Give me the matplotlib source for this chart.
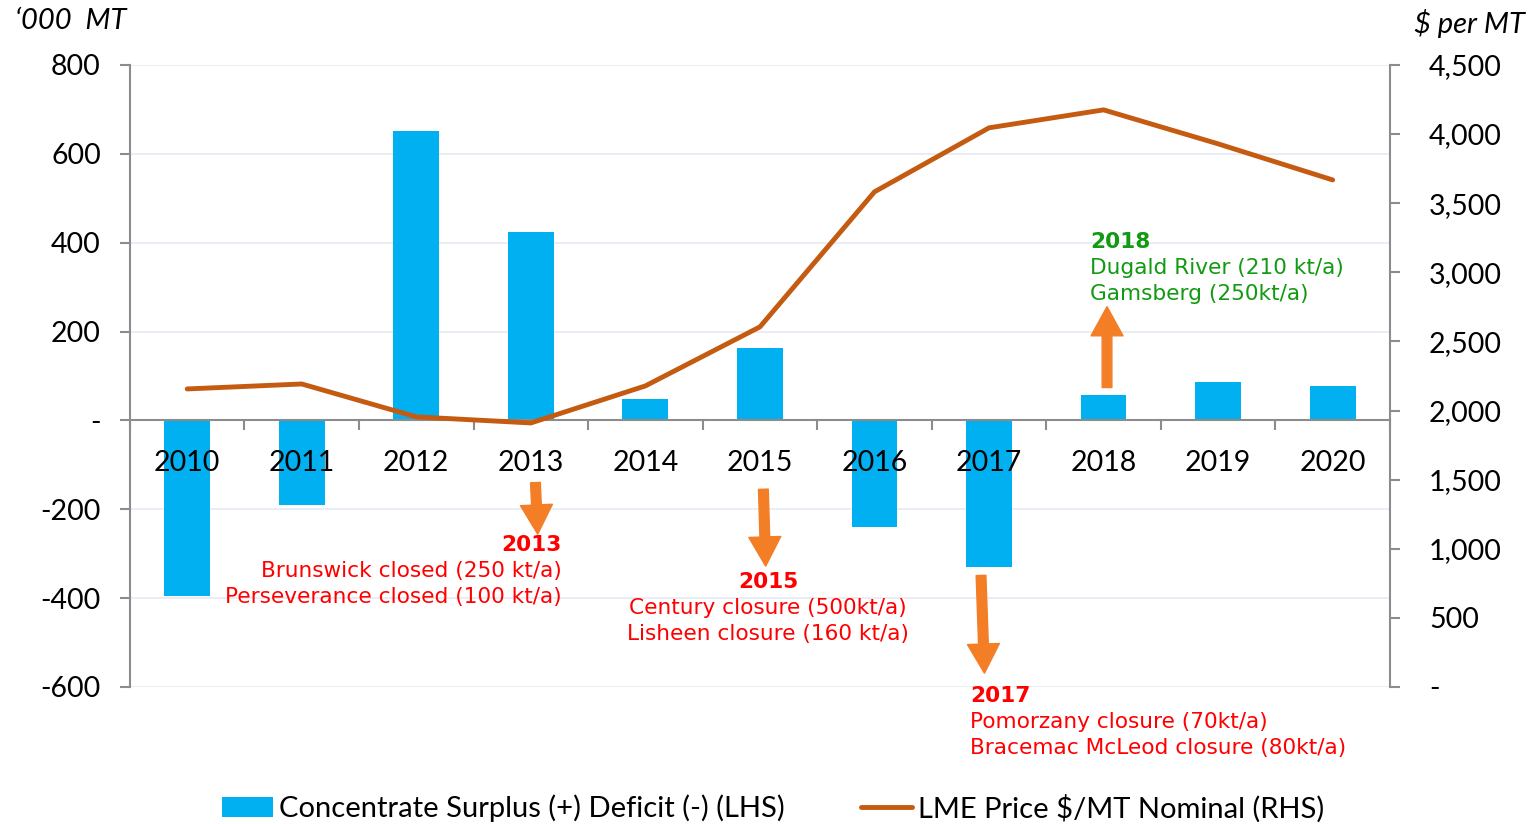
import matplotlib
matplotlib.use("Agg")
import matplotlib.pyplot as plt
import numpy as np
from matplotlib.ticker import FuncFormatter

years = ["2010", "2011", "2012", "2013", "2014", "2015", "2016", "2017", "2018", "2019", "2020"]
surplus = [-395, -191, 651, 425, 47, 162, -239, -329, 56, 86, 77]
lme_price = [2156, 2192, 1954, 1910, 2178, 2605, 3582, 4045, 4175, 3929, 3668]

# annotations: (x_tail, y_tail, x_tip, y_tip) in LHS data units
arrows = [(3.04, -140, 3.06, -256),
          (5.03, -155, 5.05, -328),
          (6.93, -349, 6.96, -569),
          (8.03, 74, 8.03, 256)]
notes = [
    (3.27, -281, "right", "#FF0000", ["2013", "Brunswick closed (250 kt/a)", "Perseverance closed (100 kt/a)"]),
    (5.07, -364, "center", "#FF0000", ["2015", "Century closure (500kt/a)", "Lisheen closure (160 kt/a)"]),
    (6.835, -621, "left", "#FF0000", ["2017", "Pomorzany closure (70kt/a)", "Bracemac McLeod closure (80kt/a)"]),
    (7.885, 402, "left", "#129A12", ["2018", "Dugald River (210 kt/a)", "Gamsberg (250kt/a)"]),
]

BLUE = "#00B0F0"
BROWN = "#C55A11"
ORANGE = "#F47E26"
SPINE = "#8C8C8C"
tick_font = "Lato"

fig = plt.figure(figsize=(15.34, 8.24), dpi=100)
ax = fig.add_axes([0.0847, 0.1663, 0.8214, 0.7549])
ax2 = ax.twinx()

x = np.arange(len(years))
ax.bar(x, surplus, width=0.4, color=BLUE, zorder=2, label="Concentrate Surplus (+) Deficit (-) (LHS)")
ax.set_xlim(-0.5, len(years) - 0.5)
ax.set_ylim(-600, 800)
ax.set_yticks(np.arange(-600, 801, 200))
ax.yaxis.set_major_formatter(FuncFormatter(lambda v, p: "-" if v == 0 else f"{v:,.0f}"))
ax.grid(axis="y", color="#E6EAF3", linewidth=1.2, zorder=0)
ax.set_axisbelow(True)
ax.xaxis.set_zorder(4)  # year labels sit on top of the bars

ax.spines["bottom"].set_position(("data", 0))
ax.spines["bottom"].set_color(SPINE)
ax.spines["bottom"].set_linewidth(1.5)
ax.spines["bottom"].set_zorder(4)
ax.spines["top"].set_visible(False)
ax.spines["right"].set_visible(False)
ax.spines["left"].set_color(SPINE)
ax.spines["left"].set_linewidth(1.5)
ax.set_xticks(x)
ax.set_xticklabels(years)
ax.set_xticks(np.arange(-0.5, len(years), 1), minor=True)
ax.tick_params(axis="x", which="major", length=0, pad=21, labelsize=20.5)
ax.tick_params(axis="x", which="minor", length=7, width=1.5, color=SPINE, direction="out")
ax.tick_params(axis="y", length=7, width=1.5, color=SPINE, labelsize=20.5, pad=14)
for lab in ax.get_xticklabels() + ax.get_yticklabels():
    lab.set_fontfamily(tick_font)

ax2.plot(x, lme_price, color=BROWN, linewidth=3.5, solid_capstyle="round", zorder=3,
         label="LME Price $/MT Nominal (RHS)")
ax2.set_ylim(0, 4500)
ax2.set_yticks(np.arange(0, 4501, 500))
ax2.yaxis.set_major_formatter(FuncFormatter(lambda v, p: "-" if v == 0 else f"{v:,.0f}"))
for s in ["top", "left", "bottom"]:
    ax2.spines[s].set_visible(False)
ax2.spines["right"].set_color(SPINE)
ax2.spines["right"].set_linewidth(1.5)
ax2.tick_params(axis="y", length=7, width=1.5, color=SPINE, labelsize=20.5, pad=21)
for lab in ax2.get_yticklabels():
    lab.set_fontfamily(tick_font)

for xt, yt, xh, yh in arrows:
    ax.annotate("", xy=(xh, yh), xytext=(xt, yt),
                arrowprops=dict(width=7, headwidth=23, headlength=21, color=ORANGE, shrink=0),
                zorder=5)

line_step = 58.5
for xn, yn, ha, col, lines in notes:
    for i, txt in enumerate(lines):
        ax.text(xn, yn - i * line_step, txt, ha=ha, va="center", color=col,
                fontsize=15.6, fontweight="bold" if i == 0 else "normal",
                family="DejaVu Sans", zorder=6)

fig.text(0.010, 0.975, "\u2018000  MT", fontsize=21, style="italic", family=tick_font, va="center")
fig.text(0.994, 0.972, "$ per MT", fontsize=21, style="italic", family=tick_font, va="center", ha="right")

h1, l1 = ax.get_legend_handles_labels()
h2, l2 = ax2.get_legend_handles_labels()
fig.legend(h1 + h2, l1 + l2, loc="center", bbox_to_anchor=(0.504, 0.019), ncol=2, frameon=False,
           prop={"family": tick_font, "size": 21}, handlelength=1.75, handletextpad=0.2,
           columnspacing=2.6)

fig.savefig("out.png", dpi=100)
